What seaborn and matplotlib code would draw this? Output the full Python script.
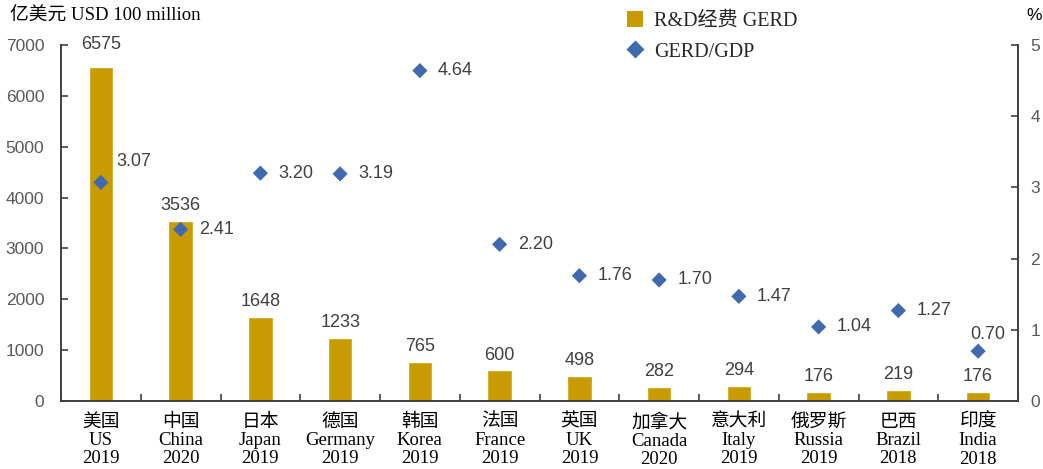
import matplotlib
matplotlib.use("Agg")
import matplotlib.pyplot as plt
import seaborn as sns
import pandas as pd
import numpy as np
from matplotlib.lines import Line2D
from matplotlib.patches import Patch

countries_cn = ["美国", "中国", "日本", "德国", "韩国", "法国", "英国", "加拿大", "意大利", "俄罗斯", "巴西", "印度"]
countries_en = ["US", "China", "Japan", "Germany", "Korea", "France", "UK", "Canada", "Italy", "Russia", "Brazil", "India"]
years = ["2019", "2020", "2019", "2019", "2019", "2019", "2019", "2020", "2019", "2019", "2018", "2018"]
gerd = [6575, 3536, 1648, 1233, 765, 600, 498, 282, 294, 176, 219, 176]
gerd_gdp = [3.07, 2.41, 3.20, 3.19, 4.64, 2.20, 1.76, 1.70, 1.47, 1.04, 1.27, 0.70]

labels = [f"{c}\n{e}\n{y}" for c, e, y in zip(countries_cn, countries_en, years)]
df = pd.DataFrame({"label": labels, "gerd": gerd, "ratio": gerd_gdp})

sns.set_theme(style="white")
serif = ["Liberation Serif", "Noto Sans CJK SC"]
sans = ["Liberation Sans", "DejaVu Sans"]
plt.rcParams["font.family"] = sans

bar_color = "#C89B00"
dia_color = "#4169B0"
axis_color = "#404040"
text_gray = "#404040"

fig = plt.figure(figsize=(10.43, 4.69), dpi=100)
ax = fig.add_axes([61/1043, 68/469, (1018-61)/1043, (401-45)/469])
sns.barplot(data=df, x="label", y="gerd", color=bar_color, width=0.31, ax=ax, saturation=1)
ax.set_ylim(0, 7000)
ax.set_xlim(-0.5, 11.5)
ax.set_yticks(range(0, 7001, 1000))
ax.set_xlabel("")
ax.set_ylabel("")

ax2 = ax.twinx()
sns.scatterplot(x=np.arange(len(gerd_gdp)), y=gerd_gdp, marker="D", s=60, color=dia_color,
                edgecolor="none", ax=ax2, zorder=5)
ax2.set_ylim(0, 5)
ax2.set_yticks(range(0, 6))
ax.set_xlim(-0.5, 11.5)
ax2.set_xlim(-0.5, 11.5)

for a in (ax, ax2):
    for s in ["left", "right", "bottom"]:
        a.spines[s].set_visible(True)
        a.spines[s].set_color(axis_color)
        a.spines[s].set_linewidth(1.2)
    a.spines["top"].set_visible(False)

ax.tick_params(axis="y", direction="in", length=5, width=1.2, color=axis_color,
               labelsize=12.5, labelcolor="#595959", pad=12, left=True)
ax2.tick_params(axis="y", direction="in", length=5, width=1.2, color=axis_color,
                labelsize=12.5, labelcolor="#595959", pad=9, right=True)

ax.set_xticks(np.arange(len(labels)))
ax.set_xticklabels(labels, fontfamily=serif, fontsize=13.5, color="black", linespacing=1.1)
ax.tick_params(axis="x", which="major", length=0, pad=9)
ax.set_xticks(np.arange(-0.5, 12, 1), minor=True)
ax.tick_params(axis="x", which="minor", direction="in", length=5, width=1.2, color=axis_color, bottom=True)

for i, v in enumerate(gerd):
    dy = 10 if i == 0 else 5
    ax.annotate(str(v), (i, v), xytext=(0, dy), textcoords="offset points",
                ha="center", va="bottom", fontsize=13, color=text_gray)

ratio_offsets = {0: (11, 15, "left"), 11: (7, 12, "center")}
for i, r in enumerate(gerd_gdp):
    dx, dy, ha = ratio_offsets.get(i, (13, 0, "left"))
    ax2.annotate(f"{r:.2f}", (i, r), xytext=(dx, dy), textcoords="offset points",
                 ha=ha, va="center", fontsize=13, color=text_gray)

fig.text(10/1043, 1-16/469, "亿美元 USD 100 million", fontfamily=serif, fontsize=13.5,
         ha="left", va="center", color="black")
fig.text(1034/1043, 1-16/469, "%", fontsize=12.5, ha="center", va="center", color="black")

handles = [Patch(facecolor=bar_color, edgecolor="none"),
           Line2D([], [], marker="D", color="none", markerfacecolor=dia_color,
                  markeredgecolor="none", markersize=9)]
fig.legend(handles, ["R&D经费 GERD", "GERD/GDP"], loc="upper left",
           bbox_to_anchor=(609/1043, 1 + 7/469), frameon=False,
           prop={"family": serif, "size": 14.5}, handlelength=0.8, handleheight=0.8,
           labelspacing=0.55, handletextpad=0.55, borderpad=0.4)

fig.savefig("out.png", dpi=100)
